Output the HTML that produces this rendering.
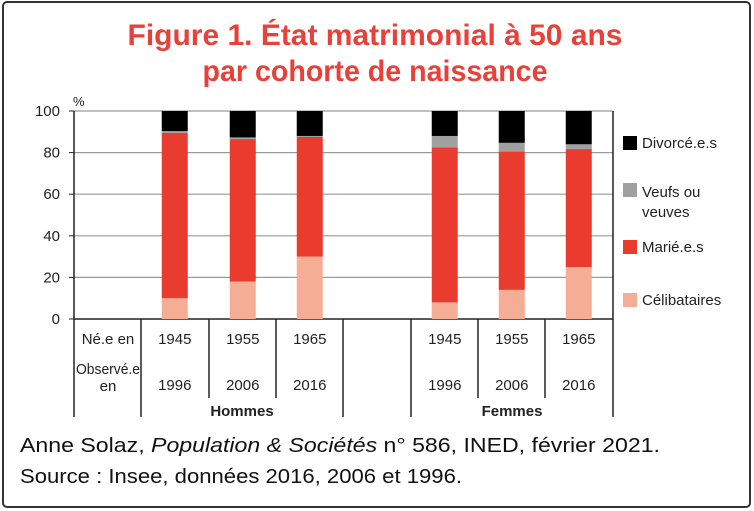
<!DOCTYPE html>
<html><head><meta charset="utf-8"><style>
html,body{margin:0;padding:0;background:#fff;}
svg{display:block;font-family:"Liberation Sans",sans-serif;}
</style></head><body>
<svg id="chart" width="754" height="511" viewBox="0 0 754 511" xmlns="http://www.w3.org/2000/svg">
<rect x="3" y="2" width="747" height="505" rx="4" fill="#fff" stroke="#333" stroke-width="2"/>
<text x="375" y="45" text-anchor="middle" font-size="30" font-weight="bold" fill="#e8413a" textLength="495" lengthAdjust="spacingAndGlyphs">Figure 1. État matrimonial à 50 ans</text>
<text x="375" y="81" text-anchor="middle" font-size="30" font-weight="bold" fill="#e8413a" textLength="345" lengthAdjust="spacingAndGlyphs">par cohorte de naissance</text>
<text x="73" y="106" font-size="13" fill="#222">%</text>
<g id="grid"></g>
<g id="bars"></g>
<g id="table"></g>
<g id="legend"></g>
<text x="20" y="452" font-size="20" fill="#111" textLength="640" lengthAdjust="spacingAndGlyphs">Anne Solaz, <tspan font-style="italic">Population &amp; Sociétés</tspan> n° 586, INED, février 2021.</text>
<text x="20" y="483" font-size="20" fill="#111" textLength="442" lengthAdjust="spacingAndGlyphs">Source : Insee, données 2016, 2006 et 1996.</text>
</svg>
<script>
const categories = ["H1945","H1955","H1965","F1945","F1955","F1965"];
const born = ["1945","1955","1965","1945","1955","1965"];
const observed = ["1996","2006","2016","1996","2006","2016"];
const celibataires = [10, 18, 30, 8, 14, 25];
const maries = [79.5, 68.5, 57.5, 74.5, 66.5, 56.7];
const veufs = [0.8, 0.8, 0.5, 5.5, 4.2, 2.3];
const divorces = [9.7, 12.7, 12, 12, 15.3, 16];
const yTicks = [0, 20, 40, 60, 80, 100];
const seriesNames = ["Divorcé.e.s", "Veufs ou veuves", "Marié.e.s", "Célibataires"];

const NS = "http://www.w3.org/2000/svg";
const X0 = 74, X1 = 613, Y0 = 319, Y1 = 111;
const slotStarts = [141, 209, 276, 411, 478, 545];
const slotW = 67.5, barW = 26;
function y(v){ return Y0 - (v/100)*(Y0-Y1); }
function slotX(i){ return slotStarts[i]; }
function mk(tag, attrs, parent){ const e=document.createElementNS(NS,tag); for(const k in attrs) e.setAttribute(k,attrs[k]); parent.appendChild(e); return e; }

const grid = document.getElementById('grid');
yTicks.forEach(t=>{
  const l = mk('line',{x1:X0,x2:X1,y1:y(t),y2:y(t),stroke: t===0?'#222':'#999','stroke-width':t===0?1.5:1.2},grid);
  
  
  const tk = mk('line',{x1:X0-5,x2:X0,y1:y(t),y2:y(t),stroke:'#222'},grid);
  
  
  const tx = mk('text',{x:60,y:y(t)+5,'text-anchor':'end','font-size':15,fill:'#222'},grid);
  tx.textContent = t;
  
  
});
const ax = mk('line',{x1:X0,x2:X0,y1:Y1,y2:Y0,stroke:'#222','stroke-width':1.5},grid);


const rax = mk('line',{x1:X1,x2:X1,y1:Y1,y2:Y0,stroke:'#222','stroke-width':1.5},grid);



const bars = document.getElementById('bars');
const colors = ['#f6ad95','#ea3c2e','#a0a0a0','#000'];
const keys = ['celibataires','maries','veufs','divorces'];
categories.forEach((c,i)=>{
  const vals=[celibataires[i],maries[i],veufs[i],divorces[i]];
  let acc=0;
  const cx = slotX(i)+slotW/2;
  vals.forEach((v,k)=>{
    const r = mk('rect',{x:cx-barW/2,y:y(acc+v),width:barW,height:y(acc)-y(acc+v),fill:colors[k]},bars);
    
    
    acc+=v;
  });
});

const table = document.getElementById('table');
const longLines=[74,141,343,411,613], shortLines=[209,276,478,545];
longLines.forEach(x=>{ const l=mk('line',{x1:x,x2:x,y1:Y0,y2:417,stroke:'#222','stroke-width':1.5},table);
  
  });
shortLines.forEach(x=>{ const l=mk('line',{x1:x,x2:x,y1:Y0,y2:398,stroke:'#222','stroke-width':1.5},table);
  
  });
function txt(s,x,yy,size,extra,name){ const t=mk('text',Object.assign({x:x,y:yy,'text-anchor':'middle','font-size':size,fill:'#222'},extra||{}),table); t.textContent=s;
  
   return t;}
txt('Né.e en',108,344,15,{},'row-label-born');
txt('Observé.e',108,374,15,{textLength:64,lengthAdjust:'spacingAndGlyphs'},'row-label-observed');
txt('en',108,391,15,{},'row-label-observed-en');
categories.forEach((c,i)=>{
  const cx=slotX(i)+slotW/2;
  txt(born[i],cx,344,15,{},'born-year-'+c);
  txt(observed[i],cx,390,15,{},'observed-year-'+c);
});
txt('Hommes',242,416,15,{'font-weight':'bold'},'group-label-hommes');
txt('Femmes',512,416,15,{'font-weight':'bold'},'group-label-femmes');

const legend = document.getElementById('legend');
const legColors=['#000','#a0a0a0','#ea3c2e','#f6ad95'];
const legY=[143,190,247,300];
seriesNames.forEach((n,k)=>{
  const r=mk('rect',{x:623,y:legY[k]-7,width:14,height:14,fill:legColors[k]},legend);
  
  
  if(k===1){
    const t=mk('text',{x:642,y:197,'font-size':15,fill:'#222'},legend); t.textContent='Veufs ou';
    
    
    const t2=mk('text',{x:642,y:217,'font-size':15,fill:'#222'},legend); t2.textContent='veuves';
    
    
  } else {
    const t=mk('text',{x:642,y:legY[k]+5,'font-size':15,fill:'#222'},legend); t.textContent=n;
    
    
  }
});
</script>
</body></html>
